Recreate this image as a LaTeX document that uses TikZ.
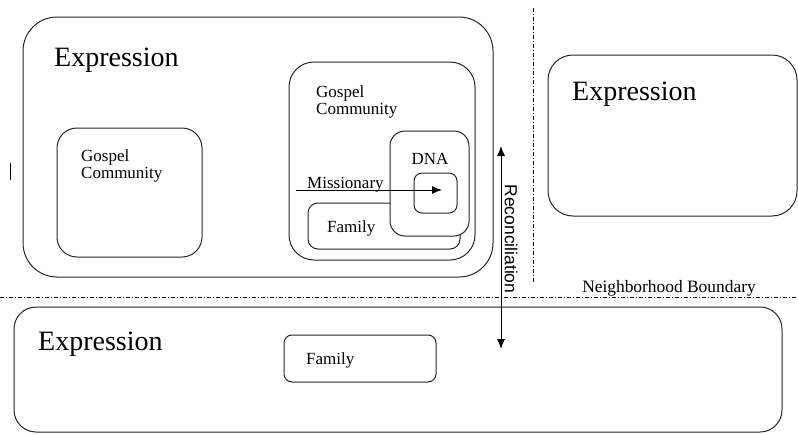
\documentclass[tikz,border=0pt]{standalone}
\usepackage{fontspec}
\setmainfont{Liberation Serif}
\newfontfamily\recfont{Liberation Sans}
\usetikzlibrary{arrows.meta}
\begin{document}
\begin{tikzpicture}[x=1pt,y=-1pt,
  box/.style={draw=black!85, line width=1pt, fill=white, inner sep=0pt},
  bigtxt/.style={font=\fontsize{28}{30}\selectfont, anchor=west, inner sep=0pt},
  smalltxt/.style={font=\fontsize{17}{17}\selectfont, anchor=west, inner sep=0pt, align=left},
  boundary/.style={line width=0.8pt, dash pattern=on 4pt off 2pt on 1pt off 2pt},
  arr/.style={line width=1pt, -{Latex[length=10pt,width=8pt]}},
  darr/.style={line width=1pt, {Latex[length=10pt,width=8pt]}-{Latex[length=10pt,width=8pt]}}]
\useasboundingbox (0,0) rectangle (798,434);

% top-left expression
\node[box, rounded corners=34pt, minimum width=470pt, minimum height=260pt] (exp1) at (258,147) {};
\node[bigtxt] (exp1t) at (54,60) {Expression};
\node[box, rounded corners=20pt, minimum width=145pt, minimum height=129pt] (gc1) at (129.5,192.5) {};
\node[smalltxt, anchor=north west] (gc1t) at (81,150) {Gospel\\Community};
\node[box, rounded corners=25pt, minimum width=186pt, minimum height=198pt] (gc2) at (382,161) {};
\node[smalltxt, anchor=north west] (gc2t) at (316,86) {Gospel\\Community};
\node[box, rounded corners=10pt, minimum width=152pt, minimum height=46pt] (fam1) at (384,226) {};
\node[smalltxt] (fam1t) at (327,228) {Family};
\node[box, rounded corners=15pt, minimum width=79pt, minimum height=105pt] (dna) at (429.5,183.5) {};
\node[smalltxt, anchor=center] (dnat) at (430,159) {DNA};
\node[box, rounded corners=8pt, minimum width=43pt, minimum height=40pt] (core) at (435.5,193) {};
\coordinate (mstart) at (296,190);
\coordinate (mend) at (442,190);
\draw[arr] (mstart) -- (mend);
\node[smalltxt] (misst) at (307,185) {Missionary};

% right expression
\node[box, rounded corners=25pt, minimum width=249pt, minimum height=161pt] (exp2) at (672.5,135.5) {};
\node[bigtxt] (exp2t) at (572,94) {Expression};

% stray tick
\coordinate (tick1) at (10,163);
\coordinate (tick2) at (10,180);
\draw[line width=1pt] (tick1) -- (tick2);

% boundaries
\coordinate (vb1) at (533,8);
\coordinate (vb2) at (533,283);
\draw[boundary] (vb1) -- (vb2);
\coordinate (hb1) at (0,297);
\coordinate (hb2) at (798,297);
\draw[boundary] (hb1) -- (hb2);
\node[font=\fontsize{17.4}{18}\selectfont, inner sep=0pt] (nbt) at (669,288) {Neighborhood Boundary};

% bottom expression
\node[box, rounded corners=22pt, minimum width=768pt, minimum height=125pt] (exp3) at (398,369.5) {};
\node[bigtxt] (exp3t) at (38,344) {Expression};
\node[box, rounded corners=8pt, minimum width=152pt, minimum height=47pt] (fam2) at (360,358.5) {};
\node[smalltxt] (fam2t) at (306,360) {Family};

% reconciliation
\coordinate (r1) at (501,146);
\coordinate (r2) at (501,349);
\draw[darr] (r1) -- (r2);
\node[font=\recfont\fontsize{17.5}{18}\selectfont, rotate=-90, inner sep=0pt] (rect) at (511,239) {Reconciliation};
\end{tikzpicture}
\end{document}
